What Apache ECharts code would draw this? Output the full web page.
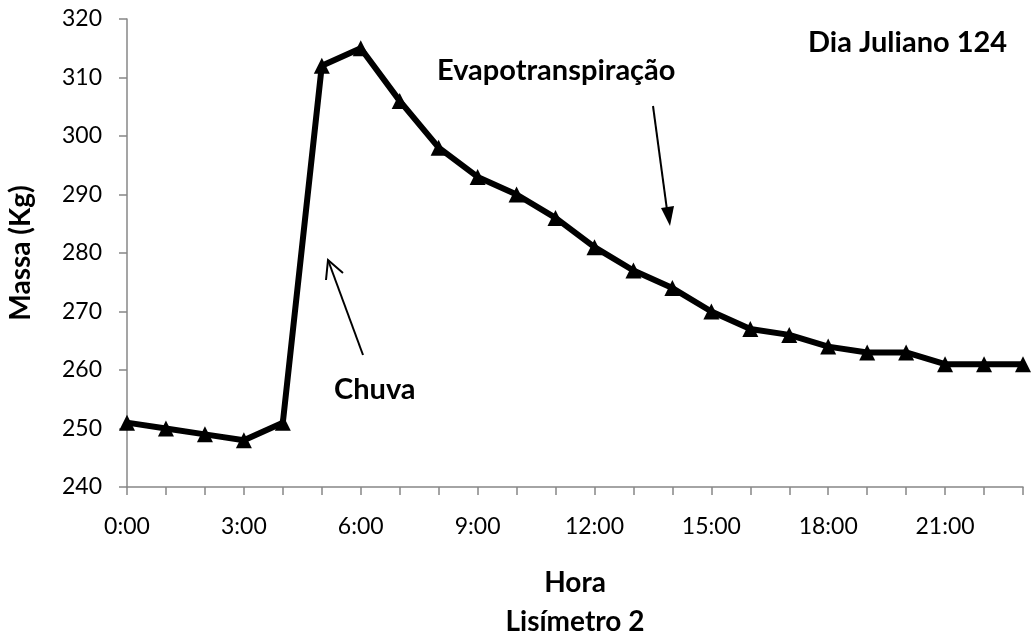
<!DOCTYPE html>
<html>
<head>
<meta charset="utf-8">
<script src="https://cdn.jsdelivr.net/npm/echarts@6/dist/echarts.min.js"></script>
<style>
    html, body { margin: 0; padding: 0; background: #fff; }
    #chart { width: 1034px; height: 639px; }
</style>
</head>
<body>
<div id="chart"></div>
<script>
// horas do dia (0:00 .. 23:00)
var hours = ['0:00', '1:00', '2:00', '3:00', '4:00', '5:00', '6:00', '7:00', '8:00', '9:00', '10:00', '11:00',
    '12:00', '13:00', '14:00', '15:00', '16:00', '17:00', '18:00', '19:00', '20:00', '21:00', '22:00', '23:00'];
// massa do lisímetro (Kg)
var massa = [251, 250, 249, 248, 251, 312, 315, 306, 298, 293, 290, 286,
    281, 277, 274, 270, 267, 266, 264, 263, 263, 261, 261, 261];
var yTicks = { min: 240, max: 320, interval: 10 };

var fontName = 'Lato, "Open Sans", sans-serif';

var chart = echarts.init(document.getElementById('chart'));
var option = {
    animation: false,
    backgroundColor: '#fff',
    grid: {
        left: 127,
        right: 11,
        top: 19,
        bottom: 152,
        outerBoundsMode: 'none',
        containLabel: false
    },
    xAxis: {
        type: 'category',
        data: hours,
        boundaryGap: false,
        name: 'Hora\nLisímetro 2',
        nameLocation: 'middle',
        nameGap: 76,
        nameTextStyle: {
            fontFamily: fontName,
            fontWeight: 'bold',
            fontSize: 28,
            color: '#000',
            lineHeight: 39
        },
        axisLine: { lineStyle: { color: '#878787', width: 1.5 } },
        axisTick: {
            show: true,
            alignWithLabel: true,
            interval: 0,
            length: 8,
            lineStyle: { color: '#878787', width: 1.5 }
        },
        axisLabel: {
            interval: 2,
            margin: 28,
            fontFamily: fontName,
            fontSize: 23,
            color: '#000'
        },
        splitLine: { show: false }
    },
    yAxis: {
        type: 'value',
        min: yTicks.min,
        max: yTicks.max,
        interval: yTicks.interval,
        name: 'Massa (Kg)',
        nameLocation: 'middle',
        nameGap: 92,
        nameTextStyle: {
            fontFamily: fontName,
            fontWeight: 'bold',
            fontSize: 28,
            color: '#000'
        },
        axisLine: { show: true, lineStyle: { color: '#878787', width: 1.5 } },
        axisTick: { show: true, length: 8, lineStyle: { color: '#878787', width: 1.5 } },
        axisLabel: {
            margin: 25,
            fontFamily: fontName,
            fontSize: 23,
            color: '#000'
        },
        splitLine: { show: false }
    },
    series: [{
        name: 'Massa',
        type: 'line',
        data: massa,
        symbol: 'triangle',
        symbolSize: 16,
        showAllSymbol: true,
        lineStyle: { color: '#000', width: 6 },
        itemStyle: { color: '#000' }
    }],
    // anotações
    graphic: [
        {
            type: 'text', left: 808, top: 28,
            style: { text: 'Dia Juliano 124', fontFamily: fontName, fontWeight: 'bold', fontSize: 29, fill: '#000' }
        },
        {
            type: 'text', left: 437, top: 56,
            style: { text: 'Evapotranspiração', fontFamily: fontName, fontWeight: 'bold', fontSize: 29, fill: '#000' }
        },
        {
            type: 'text', left: 334, top: 375,
            style: { text: 'Chuva', fontFamily: fontName, fontWeight: 'bold', fontSize: 29, fill: '#000' }
        },
        // seta evapotranspiração
        {
            type: 'line',
            shape: { x1: 653, y1: 106, x2: 667, y2: 210 },
            style: { stroke: '#000', lineWidth: 2 }
        },
        {
            type: 'polygon',
            shape: { points: [[670, 226], [661, 208], [674, 206]] },
            style: { fill: '#000' }
        },
        // seta chuva
        {
            type: 'polyline',
            shape: { points: [[363, 355], [328, 260]] },
            style: { stroke: '#000', lineWidth: 2 }
        },
        {
            type: 'polyline',
            shape: { points: [[326, 280], [328, 260], [343, 273]] },
            style: { stroke: '#000', lineWidth: 2, fill: null }
        }
    ]
};
chart.setOption(option);
</script>
</body>
</html>
